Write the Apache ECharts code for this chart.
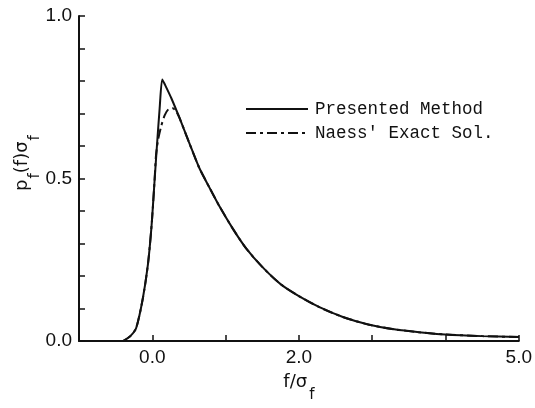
<!DOCTYPE html>
<html>
<head>
<meta charset="utf-8">
<script src="https://cdn.jsdelivr.net/npm/echarts@6/dist/echarts.min.js"></script>
<style>
  html, body { margin: 0; padding: 0; background: #fff; }
  #chart { width: 535px; height: 408px; }
</style>
</head>
<body>
<div id="chart"></div>
<script>
// presented method (solid)
const presentedX = [-0.40, -0.30, -0.22, -0.13, -0.06, -0.01, 0.03, 0.06, 0.10, 0.136, 0.17, 0.26, 0.37, 0.50, 0.64, 0.78, 0.92, 1.10, 1.28, 1.50, 1.75, 2.00, 2.28, 2.60, 2.96, 3.30, 3.64, 4.00, 4.50, 5.00];
const presentedY = [0.0, 0.015, 0.04, 0.13, 0.235, 0.355, 0.49, 0.59, 0.715, 0.805, 0.79, 0.747, 0.687, 0.612, 0.533, 0.472, 0.413, 0.345, 0.285, 0.228, 0.175, 0.138, 0.104, 0.074, 0.050, 0.036, 0.027, 0.020, 0.015, 0.012];

// Naess' exact solution (dash-dot), only differs near the peak
const naessX = [-0.40, -0.30, -0.22, -0.13, -0.06, -0.01, 0.03, 0.05, 0.08, 0.12, 0.17, 0.22, 0.28, 0.33, 0.37, 0.50, 0.64, 0.78, 0.92, 1.10, 1.28, 1.50, 1.75, 2.00, 2.28, 2.60, 2.96, 3.30, 3.64, 4.00, 4.50, 5.00];
const naessY = [0.0, 0.015, 0.04, 0.13, 0.235, 0.355, 0.49, 0.57, 0.62, 0.66, 0.695, 0.713, 0.716, 0.705, 0.687, 0.612, 0.533, 0.472, 0.413, 0.345, 0.285, 0.228, 0.175, 0.138, 0.104, 0.074, 0.050, 0.036, 0.027, 0.020, 0.015, 0.012];

const xLabels = { 0: '0.0', 2: '2.0', 5: '5.0' };
const yLabels = { 0: '0.0', 0.5: '0.5', 1: '1.0' };

const ink = '#111';
const zip = (xs, ys) => xs.map((x, i) => [x, ys[i]]);

const chart = echarts.init(document.getElementById('chart'));
chart.setOption({
  backgroundColor: '#fff',
  animation: false,
  grid: { left: 79, right: 15, top: 16, bottom: 61 },
  legend: {
    left: 240,
    top: 95,
    orient: 'vertical',
    itemWidth: 62,
    itemHeight: 14,
    itemGap: 6,
    itemStyle: { opacity: 0 },
    textStyle: { fontFamily: 'Liberation Mono', fontSize: 17.5, color: ink, padding: [0, 0, 0, 2] },
    data: ['Presented Method', "Naess' Exact Sol."]
  },
  xAxis: {
    type: 'value',
    min: -1,
    max: 5,
    interval: 1,
    name: 'f/σ{s|f}',
    nameLocation: 'middle',
    nameGap: 32,
    nameTextStyle: {
      fontFamily: 'DejaVu Sans', fontSize: 18, color: ink,
      rich: { s: { fontFamily: 'DejaVu Sans', fontSize: 15, color: ink, verticalAlign: 'bottom', padding: [0, 0, -12, 2] } }
    },
    axisLine: { onZero: false, lineStyle: { color: ink, width: 2 } },
    axisTick: { inside: true, length: 6, lineStyle: { color: ink, width: 1.5 } },
    axisLabel: {
      margin: 7,
      fontFamily: 'Liberation Sans', fontSize: 19, color: ink,
      formatter: v => xLabels[Math.round(v * 10) / 10] || ''
    },
    splitLine: { show: false }
  },
  yAxis: {
    type: 'value',
    min: 0,
    max: 1,
    interval: 0.1,
    axisLine: { show: true, onZero: false, lineStyle: { color: ink, width: 2 } },
    axisTick: { show: true, inside: true, length: 6, lineStyle: { color: ink, width: 1.5 } },
    axisLabel: {
      margin: 7,
      fontFamily: 'Liberation Sans', fontSize: 19, color: ink,
      formatter: v => yLabels[Math.round(v * 10) / 10] || ''
    },
    splitLine: { show: false }
  },
  graphic: [{
    type: 'text',
    x: 22,
    y: 163,
    rotation: Math.PI / 2,
    style: {
      text: 'p{s|f}(f)σ{s|f}',
      font: '18px "DejaVu Sans"',
      fill: ink,
      align: 'center',
      verticalAlign: 'middle',
      rich: { s: { font: '15px "DejaVu Sans"', fill: ink, verticalAlign: 'bottom', padding: [0, 0, -12, 1] } }
    }
  }],
  series: [
    {
      name: "Naess' Exact Sol.",
      type: 'line',
      symbol: 'none',
      smooth: 0.25,
      data: zip(naessX, naessY),
      lineStyle: { color: ink, width: 2, type: [10, 4, 3, 4] },
      itemStyle: { color: ink },
      z: 2
    },
    {
      name: 'Presented Method',
      type: 'line',
      symbol: 'none',
      smooth: 0.25,
      data: zip(presentedX, presentedY),
      lineStyle: { color: ink, width: 2 },
      itemStyle: { color: ink },
      z: 3
    }
  ]
});
</script>
</body>
</html>
